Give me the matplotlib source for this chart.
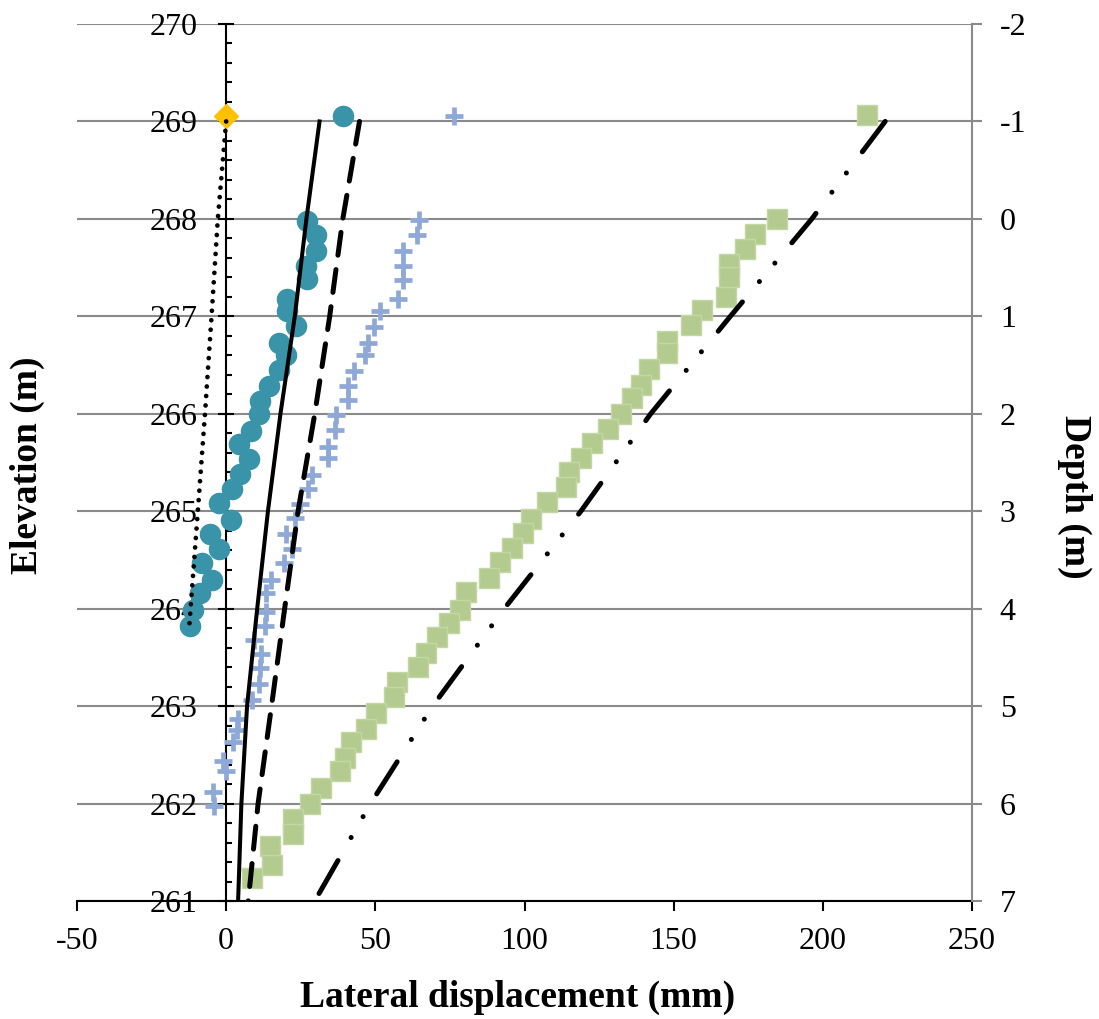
import matplotlib
matplotlib.use("Agg")
import matplotlib.pyplot as plt
from matplotlib.ticker import MultipleLocator

plt.rcParams['font.family'] = ['Liberation Serif', 'DejaVu Serif']
plt.rcParams['axes.unicode_minus'] = False

# inclinometer readings (elevation in m, lateral displacement in mm)
elev_circ = [269.06, 267.98, 267.83, 267.67, 267.52, 267.38, 267.18, 267.05, 266.90, 266.73,
             266.60, 266.45, 266.29, 266.13, 266.00, 265.82, 265.69, 265.54, 265.38, 265.23,
             265.08, 264.91, 264.77, 264.61, 264.47, 264.29, 264.16, 263.99, 263.82]
disp_circ = [39.2, 27.2, 30.2, 30.2, 26.9, 27.2, 20.5, 20.5, 23.5, 17.6,
             20.2, 17.6, 14.3, 11.3, 10.9, 8.2, 4.3, 7.6, 4.6, 1.8,
             -2.3, 1.6, -5.5, -2.4, -8.0, -4.9, -8.8, -11.0, -12.1]

elev_plus = [269.06, 267.99, 267.83, 267.67, 267.52, 267.37, 267.18, 267.05, 266.89, 266.73,
             266.60, 266.44, 266.28, 266.14, 265.99, 265.83, 265.66, 265.55, 265.37, 265.23,
             265.07, 264.93, 264.77, 264.61, 264.47, 264.29, 264.16, 263.97, 263.82, 263.68,
             263.53, 263.39, 263.23, 263.06, 262.87, 262.75, 262.63, 262.44, 262.33, 262.12,
             261.98]
disp_plus = [76.5, 64.8, 63.9, 59.2, 59.2, 59.2, 57.5, 51.4, 49.5, 47.7,
             46.6, 42.7, 40.8, 40.8, 36.9, 36.6, 34.1, 34.1, 28.9, 27.4,
             24.6, 23.0, 20.0, 21.9, 19.4, 15.0, 13.5, 13.5, 12.9, 9.3,
             11.8, 11.3, 10.9, 8.5, 4.0, 3.5, 2.3, -1.0, -0.2, -4.3,
             -4.0]

elev_sq = [269.07, 268.00, 267.84, 267.69, 267.54, 267.40, 267.20, 267.06, 266.91, 266.75,
           266.62, 266.46, 266.30, 266.16, 266.00, 265.84, 265.70, 265.55, 265.40, 265.25,
           265.09, 264.92, 264.78, 264.62, 264.48, 264.31, 264.17, 263.99, 263.85, 263.71,
           263.54, 263.40, 263.25, 263.09, 262.93, 262.77, 262.63, 262.47, 262.33, 262.16,
           262.00, 261.84, 261.69, 261.56, 261.37, 261.24]
disp_sq = [214.7, 184.6, 177.4, 173.8, 168.5, 168.5, 167.4, 159.5, 155.9, 147.6,
           147.6, 141.7, 139.1, 135.9, 132.2, 128.1, 122.7, 118.9, 115.0, 113.8,
           107.4, 102.1, 99.6, 95.7, 91.8, 88.0, 80.4, 78.5, 74.6, 70.7,
           67.0, 64.2, 57.2, 56.4, 50.3, 47.0, 41.7, 39.7, 38.0, 31.9,
           28.0, 22.4, 22.4, 14.6, 15.2, 8.8]

# predicted profiles
elev_pred = [269, 268, 267, 266, 265, 264, 263, 262, 261]
disp_solid = [31.3, 26.9, 23.0, 18.2, 14.0, 10.4, 7.0, 5.1, 4.0]
disp_dash = [44.7, 39.1, 34.7, 29.7, 24.1, 19.6, 15.2, 10.7, 7.4]
disp_dashdot = [220.9, 196.3, 169.0, 142.3, 118.9, 93.2, 69.2, 48.4, 29.7]

elev_dot = [269.0, 268.0, 267.0, 266.0, 265.0, 263.85]
disp_dot = [0.0, -2.8, -4.9, -7.1, -9.5, -12.3]

elev_top = [269.06]
disp_top = [0.0]

elev_ticks = list(range(261, 271))
depth_ticks = list(range(-2, 8))
disp_ticks = [-50, 0, 50, 100, 150, 200, 250]

fig = plt.figure(figsize=(10.99, 10.19), dpi=100)
ax = fig.add_axes([77 / 1099, 1 - 901 / 1019, 895 / 1099, 877 / 1019])

ax.plot(disp_circ, elev_circ, 'o', color='#3A94A9', ms=14.5, mec='#3A94A9', zorder=3)
ax.plot(disp_plus, elev_plus, '+', color='#8EA9D8', ms=13, mew=3.4, zorder=3)
ax.plot(disp_sq, elev_sq, 's', color='#B4CB8F', ms=14, mec='#C3D6A4', mew=1, zorder=3)
ax.plot(disp_top, elev_top, 'D', color='#FFC000', ms=12, mec='#FFC000', zorder=3)

ax.plot(disp_solid, elev_pred, '-', color='black', lw=2.9, zorder=4)
ax.plot(disp_dash, elev_pred, color='black', lw=3.6, linestyle=(0, (4.6, 2.9)),
        dash_capstyle='round', zorder=4)
ax.plot(disp_dashdot, elev_pred, color='black', lw=3.6,
        linestyle=(0, (7.6, 5.3, 0.01, 4.8, 0.01, 5.3)), dash_capstyle='round', zorder=4)
ax.plot(disp_dot, elev_dot, color='black', lw=3.4, linestyle=(0, (0.01, 2.0)),
        dash_capstyle='round', zorder=4)

ax.set_xlim(-50, 250)
ax.set_ylim(261, 270)
ax.set_xticks(disp_ticks)
ax.set_yticks(elev_ticks)
ax.yaxis.set_minor_locator(MultipleLocator(0.2))

ax.spines['left'].set_position(('data', 0))
ax.spines['left'].set_linewidth(1.5)
ax.spines['bottom'].set_linewidth(1.5)
ax.spines['top'].set_visible(False)
ax.spines['right'].set_visible(False)

ax.tick_params(axis='y', which='major', direction='inout', length=11.5, width=1.5,
               labelsize=23, pad=15)
ax.tick_params(axis='y', which='minor', direction='in', length=4.5, width=1.5)
ax.tick_params(axis='x', which='major', direction='out', length=7, width=1.5,
               labelsize=23, pad=12)
ax.yaxis.grid(True, which='major', color='#8A8A8A', lw=1.5)
ax.set_axisbelow(True)

# depth scale on the right (depth = 268 - elevation)
ax2 = ax.twinx()
ax2.set_ylim(268 - 261, 268 - 270)
ax2.set_yticks(depth_ticks)
for s in ['left', 'top', 'bottom']:
    ax2.spines[s].set_visible(False)
ax2.spines['right'].set_color('#8A8A8A')
ax2.spines['right'].set_linewidth(1.5)
ax2.tick_params(axis='y', direction='out', length=7, width=1.5, color='#8A8A8A',
                labelsize=23, pad=13)

fig.text(518 / 1099, 1 - 997 / 1019, 'Lateral displacement (mm)', ha='center', va='center',
         fontsize=27, fontweight='bold')
fig.text(27 / 1099, 1 - 465 / 1019, 'Elevation (m)', ha='center', va='center',
         rotation=90, fontsize=27, fontweight='bold')
fig.text(1075 / 1099, 1 - 497 / 1019, 'Depth (m)', ha='center', va='center',
         rotation=270, fontsize=27, fontweight='bold')

fig.savefig('out.png', dpi=100)
